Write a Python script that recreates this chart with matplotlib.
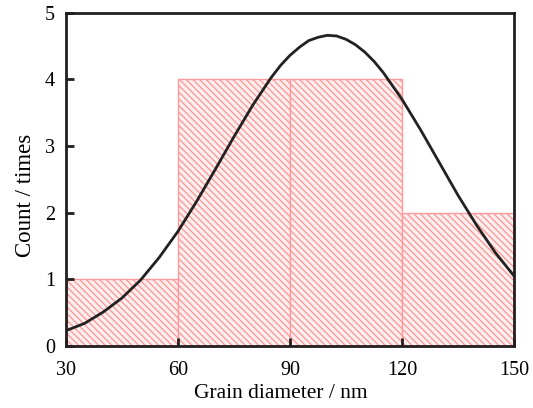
import matplotlib.pyplot as plt
import numpy as np

plt.rcParams['font.family'] = ['Liberation Serif', 'DejaVu Serif']
plt.rcParams['hatch.linewidth'] = 1.0

# histogram bins (nm) and counts
bin_left = [30, 60, 90, 120]
bin_width = [30, 30, 30, 30]
counts = [1, 4, 4, 2]

# fitted curve
curve_x = [30, 35, 40, 45, 50, 55, 60, 65, 70, 75, 80, 85, 87.5, 90, 92.5, 95,
           97.5, 100, 102.5, 105, 107.5, 110, 112.5, 115, 120, 125, 130, 135,
           140, 145, 150]
curve_y = [0.23, 0.34, 0.51, 0.72, 0.99, 1.33, 1.72, 2.17, 2.65, 3.14, 3.61,
           4.03, 4.21, 4.36, 4.48, 4.58, 4.63, 4.66, 4.65, 4.60, 4.52, 4.41,
           4.27, 4.10, 3.70, 3.24, 2.75, 2.26, 1.81, 1.40, 1.05]

x_ticks = [30, 60, 90, 120, 150]
y_ticks = [0, 1, 2, 3, 4, 5]

fig = plt.figure(figsize=(5.33, 4.08), dpi=100)
ax = fig.add_axes([0.1238, 0.152, 0.8406, 0.817])

ax.bar(bin_left, counts, width=bin_width, align='edge',
       facecolor='#fff0f0', edgecolor='#ff9a9a', hatch='\\\\\\\\\\',
       linewidth=1.0, zorder=1)

ax.plot(curve_x, curve_y, color='#222222', linewidth=2.0,
        solid_joinstyle='round', solid_capstyle='round', zorder=3)

ax.set_xlim(30, 150)
ax.set_ylim(0, 5)
ax.set_xticks(x_ticks)
ax.set_yticks(y_ticks)

spine_color = '#231f20'
for s in ax.spines.values():
    s.set_color(spine_color)
    s.set_linewidth(2.0)
    s.set_zorder(4)

ax.tick_params(direction='in', length=6, width=2, color=spine_color,
               labelsize=14.5, top=False, right=False)
ax.tick_params(axis='x', pad=11)
ax.tick_params(axis='y', pad=8)

ax.set_xlabel('Grain diameter / nm', fontsize=15.5)
ax.set_ylabel('Count / times', fontsize=16.5)
ax.xaxis.set_label_coords(0.48, -0.115)
ax.yaxis.set_label_coords(-0.066, 0.453)

plt.savefig('out.png', dpi=100)
